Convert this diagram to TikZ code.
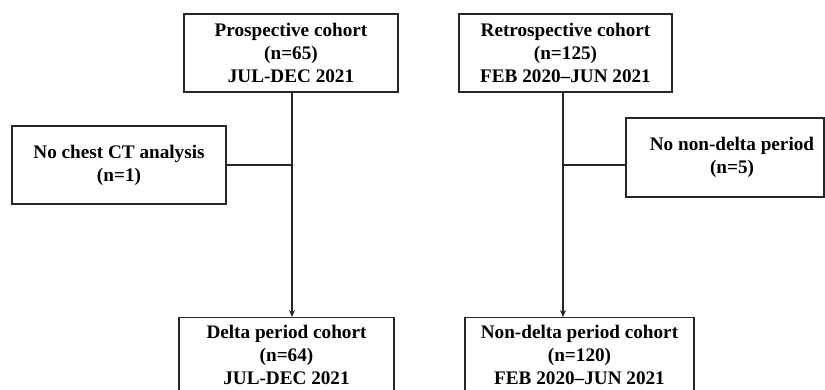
\documentclass[tikz,border=0pt]{standalone}
\usepackage{fontspec}
\setmainfont{Liberation Serif}
\usetikzlibrary{arrows.meta}
\definecolor{linec}{gray}{0.15}
\tikzset{
  box/.style={draw=linec, line width=1.3pt, rectangle, align=center, inner sep=2pt,
    font=\fontsize{19.2}{23}\selectfont\bfseries, text=black},
  conn/.style={draw=linec, line width=1.3pt},
  arr/.style={conn, -{Stealth[length=7pt,width=6pt]}}
}
\begin{document}
\begin{tikzpicture}[x=1pt,y=-1pt]
\useasboundingbox (0,0) rectangle (825,390);
\node[box, minimum width=214pt, minimum height=78pt] (tl) at (291,53) {Prospective cohort\\(n=65)\\JUL-DEC 2021};
\node[box, minimum width=213pt, minimum height=78pt] (tr) at (565.5,53) {Retrospective cohort\\(n=125)\\FEB 2020–JUN 2021};
\node[box, minimum width=214pt, minimum height=78pt] (lx) at (119,165) {No chest CT analysis\\(n=1)};
\node[box, minimum width=198pt, minimum height=79pt] (rx) at (725,157.5) {\hspace*{14pt}No non-delta period\\\hspace*{14pt}(n=5)};
\node[box, minimum width=215pt, minimum height=75pt, anchor=north] (bl) at (286.5,317) {Delta period cohort\\(n=64)\\JUL-DEC 2021};
\node[box, minimum width=229pt, minimum height=75pt, anchor=north] (br) at (579.5,317) {Non-delta period cohort\\(n=120)\\FEB 2020–JUN 2021};
\coordinate (lt) at ([xshift=1pt]tl.south);
\coordinate (rt) at ([xshift=-2.5pt]tr.south);
\draw[arr] (lt) -- (lt |- bl.north);
\draw[arr, line width=1.8pt] (rt) -- (rt |- br.north);
\draw[conn] (lx.east) -- (lx.east -| lt);
\coordinate (rj) at ([yshift=-7.5pt]rx.west);
\draw[conn] (rj) -- (rj -| rt);
\end{tikzpicture}
\end{document}
